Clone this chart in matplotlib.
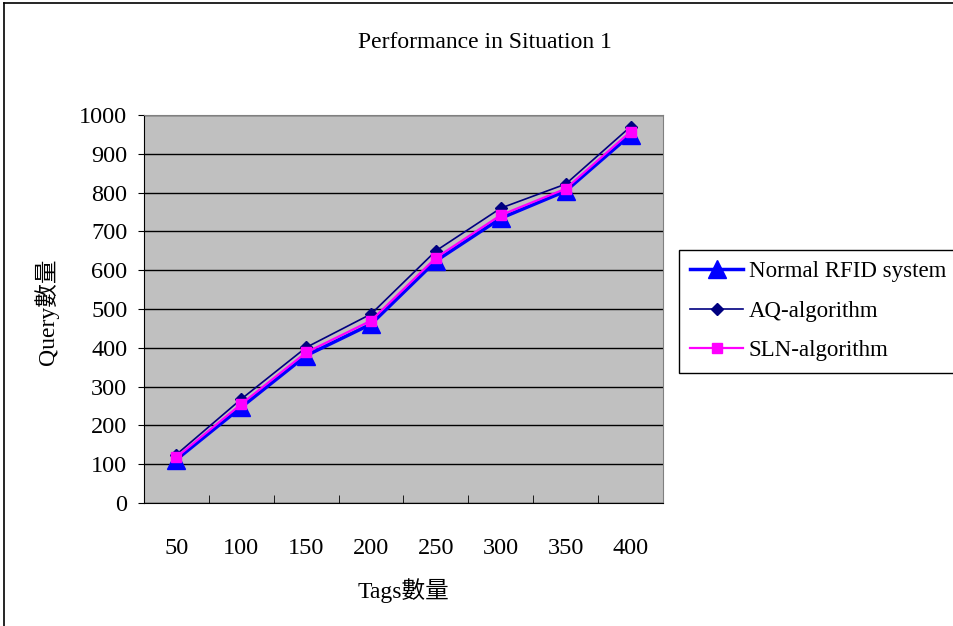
import numpy as np
import matplotlib
matplotlib.use("Agg")
import matplotlib.pyplot as plt
from matplotlib.lines import Line2D

plt.rcParams['font.family'] = ['Liberation Serif', 'Noto Sans CJK TC']

tags = ['50', '100', '150', '200', '250', '300', '350', '400']
normal_rfid = [112, 247, 380, 461, 624, 734, 804, 949]
aq_algo = [125, 268, 401, 487, 650, 760, 822, 970]
sln_algo = [118, 255, 388, 470, 632, 742, 810, 957]

fig = plt.figure(figsize=(9.54, 6.26), dpi=100)
ax = fig.add_axes([144 / 954, 1 - 503 / 626, (663 - 144) / 954, (503 - 115) / 626])
ax.set_facecolor('#C0C0C0')

x = np.arange(len(tags))
ax.plot(x, normal_rfid, color='#0000FF', lw=2.5, marker='^', ms=13, label='Normal RFID system', zorder=3)
ax.plot(x, aq_algo, color='#000080', lw=1.2, marker='D', ms=6, label='AQ-algorithm', zorder=4)
ax.plot(x, sln_algo, color='#FF00FF', lw=1.6, marker='s', ms=7, label='SLN-algorithm', zorder=5)

ax.set_ylim(0, 1000)
ax.set_yticks(range(0, 1001, 100))
ax.set_xlim(-0.5, len(tags) - 0.5)
ax.set_xticks(x)
ax.set_xticklabels(tags)
ax.set_xticks(np.arange(-0.5, len(tags), 1), minor=True)
ax.tick_params(axis='x', which='major', length=0, pad=25, labelsize=17.5)
ax.tick_params(axis='x', which='minor', length=6, direction='in', color='black')
ax.tick_params(axis='y', length=4, direction='out', labelsize=17.5, pad=8)
ax.yaxis.grid(True, color='black', lw=1)
ax.set_axisbelow(True)
for s in ['top', 'right']:
    ax.spines[s].set_color('#808080')
for s in ['left', 'bottom']:
    ax.spines[s].set_color('black')

fig.text(485 / 954, 1 - 43 / 626, 'Performance in Situation 1', ha='center', va='center', fontsize=17)
fig.text(47 / 954, 1 - 312 / 626, 'Query數量', ha='center', va='center', rotation=90, fontsize=17)
fig.text(403 / 954, 1 - 591 / 626, 'Tags數量', ha='center', va='center', fontsize=17)

leg = fig.legend(loc='upper left', bbox_to_anchor=(679 / 954, 1 - 250 / 626), fontsize=16.5,
                 frameon=True, fancybox=False, edgecolor='black', framealpha=1,
                 handlelength=2.3, borderpad=0.5, labelspacing=0.8, handletextpad=0.25,
                 borderaxespad=0)
leg.get_frame().set_linewidth(1)

fig.add_artist(Line2D([4 / 954, 4 / 954], [0, 1 - 3 / 626], color='black', lw=1.2, transform=fig.transFigure))
fig.add_artist(Line2D([4 / 954, 1], [1 - 3 / 626, 1 - 3 / 626], color='black', lw=1.2, transform=fig.transFigure))

fig.savefig('out.png', dpi=100)
